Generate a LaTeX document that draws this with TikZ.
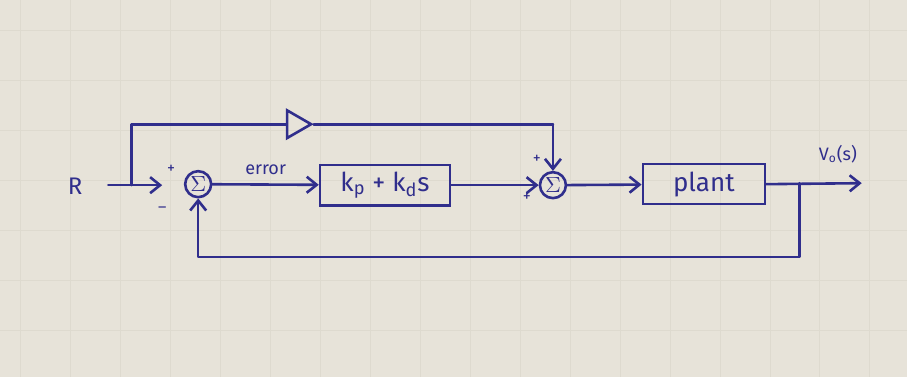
\documentclass[tikz,border=0pt]{standalone}
\usepackage{fontspec}
\setmainfont{Fira Sans}
\usetikzlibrary{arrows.meta,shapes.geometric}
\definecolor{ink}{RGB}{48,46,140}
\definecolor{paper}{RGB}{231,227,217}
\definecolor{gridc}{RGB}{222,218,207}
\tikzset{
  wire/.style={ink, line width=1.3pt, line cap=round, line join=round},
  flow/.style={wire, -{Straight Barb[length=5pt,width=8pt]}},
  block/.style={draw=ink, line width=1.3pt, minimum height=20pt, inner xsep=6pt, text=ink, font=\fontsize{13}{15}\selectfont},
  summer/.style={circle, draw=ink, line width=1.3pt, minimum size=13pt, inner sep=0pt, text=ink, font=\fontsize{11}{13}\selectfont},
  gain/.style={isosceles triangle, isosceles triangle apex angle=60, draw=ink, line width=1.3pt, minimum height=12pt, inner sep=0pt},
  lbl/.style={text=ink, font=\fontsize{9}{11}\selectfont},
  sgn/.style={text=ink, font=\fontsize{8}{9}\selectfont, inner sep=0pt}
}
\begin{document}
\begin{tikzpicture}[x=0.5pt, y=-0.5pt]
  % paper with a faint grid
  \fill[paper] (0,0) rectangle (907,377);
  \foreach \gx in {20,70,...,900} \draw[gridc, line width=0.3pt] (\gx,0) -- (\gx,377);
  \foreach \gy in {30,80,...,377} \draw[gridc, line width=0.3pt] (0,\gy) -- (907,\gy);
  \useasboundingbox (0,0) rectangle (907,377);

  % nodes
  \node[lbl, font=\fontsize{12}{14}\selectfont] (R) at (75,186) {R};
  \coordinate (rin) at (108,185);
  \coordinate (s1in) at (162,185);
  \coordinate (split) at (131,185);
  \coordinate (splitup) at (131,124);
  \node[summer] (s1) at (198,184) {$\Sigma$};
  \node[block, minimum width=65pt] (pd) at (385,185) {k\textsubscript{p} + k\textsubscript{d}s};
  \node[gain] (ff) at (295,124) {};
  \coordinate (ffturn) at (553,124);
  \node[summer] (s2) at (553,185) {$\Sigma$};
  \node[block, minimum width=61pt] (plant) at (704,184) {plant};
  \coordinate (tap) at (800,183);
  \coordinate (out) at (862,183);
  \coordinate (fbr) at (800,257);
  \coordinate (fbl) at (198,257);

  % main path
  \draw[flow] (rin) -- (s1in);
  \draw[flow] (s1) -- node[lbl, above=1pt] {error} (pd);
  \draw[flow] (pd) -- (s2);
  \draw[flow] (s2) -- (plant);
  \draw[flow] (plant.east) -- (out) node[lbl, above=6pt, pos=0.75] {V\textsubscript{o}(s)};

  % feedforward branch
  \draw[wire] (split) -- (splitup) -- (ff.west);
  \draw[wire] (ff.east) -- (ffturn);
  \draw[flow] (ffturn) -- (s2.north);

  % feedback path
  \draw[flow] (tap) -- (fbr) -- (fbl) -- (s1.south);

  % summing junction signs
  \node[sgn] (p1) at (171,169) {+};
  \node[sgn] (m1) at (162,210) {--};
  \node[sgn] (p2) at (537,159) {+};
  \node[sgn] (p3) at (527,197) {+};
\end{tikzpicture}
\end{document}
